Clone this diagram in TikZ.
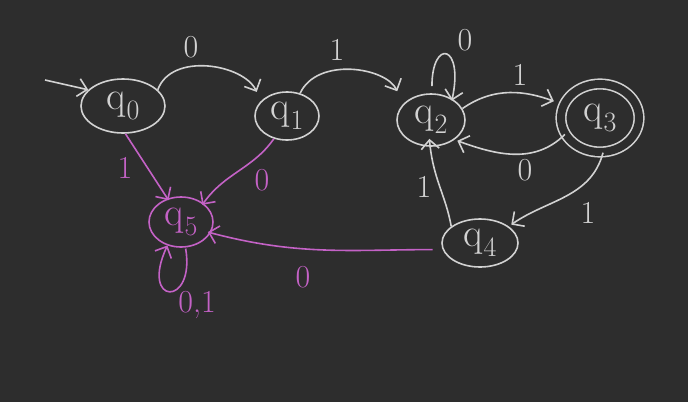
\documentclass[tikz,border=0pt]{standalone}
\usepackage{fontspec}
\usetikzlibrary{shapes.geometric,arrows.meta}
\definecolor{bg}{HTML}{2D2D2D}
\definecolor{chalk}{HTML}{D2D2D2}
\definecolor{mag}{HTML}{C462C6}
\newcommand{\qs}[1]{q\kern1pt\textsubscript{#1}}
\begin{document}
\begin{tikzpicture}[x=1pt,y=-1pt,
  st/.style={ellipse,draw=chalk,line width=1.6pt,inner sep=0pt,text=chalk,font=\fontsize{40}{42}\selectfont},
  edge/.style={draw=chalk,line width=1.6pt,-{Straight Barb[length=9pt,width=18pt,line width=1.6pt]}},
  medge/.style={edge,draw=mag},
  lbl/.style={text=chalk,font=\fontsize{32}{34}\selectfont,inner sep=0pt},
  mlbl/.style={lbl,text=mag}]
\fill[bg] (0,0) rectangle (688,402);
\useasboundingbox (0,0) rectangle (688,402);
% states
\node[st,minimum width=84pt,minimum height=54pt] (q0) at (123,106) {\qs{0}};
\node[st,minimum width=64pt,minimum height=48pt] (q1) at (287,116) {\qs{1}};
\node[st,minimum width=68pt,minimum height=52pt] (q2) at (431,120) {\qs{2}};
\node[st,minimum width=78pt,minimum height=68pt,double=bg,double distance=8pt] (q3) at (600,118) {\qs{3}};
\node[st,minimum width=76pt,minimum height=48pt] (q4) at (480,243) {\qs{4}};
\node[st,draw=mag,text=mag,minimum width=64pt,minimum height=50pt] (q5) at (181,222) {\qs{5}};
% start
\coordinate (s) at (45,80);
\draw[edge] (s) -- (q0.155);
% white edges
\draw[edge,shorten >=10pt] (q0.25) to[out=70,in=115] (q1.150);
\node[lbl] (l01) at (191,47) {0};
\draw[edge,shorten >=14pt] (q1.60) to[out=65,in=115] (q2.150);
\node[lbl] (l12) at (337,50) {1};
\draw[edge,shorten <=7pt,shorten >=-2pt] (q2.88) .. controls +(0,-55) and +(12,-55) .. (q2.45);
\node[lbl] (l22) at (465,40) {0};
\draw[edge,shorten >=10pt] (q2.20) to[out=35,in=160] (q3.160);
\node[lbl] (l23) at (520,75) {1};
\draw[edge,shorten >=3pt] (q3.205) to[out=225,in=-20] (q2.320);
\node[lbl] (l32) at (525,170) {0};
\draw[edge,shorten >=3pt] (q3.275) to[out=255,in=35] (q4.30);
\node[lbl] (l34) at (588,213) {1};
\draw[edge,shorten >=-8pt] (q4.150) to[out=100,in=-85] (q2.268);
\node[lbl] (l42) at (424,187) {1};
% magenta edges
\draw[medge,shorten >=-2pt] (q0.275) -- (q5.120);
\node[mlbl] (l05) at (125,168) {1};
\draw[medge,shorten >=-2pt] (q1.240) to[out=235,in=55] (q5.40);
\node[mlbl] (l15) at (262,180) {0};
\draw[medge,shorten <=10pt,shorten >=-3pt] (q4.190) to[out=180,in=-15] (q5.-20);
\node[mlbl] (l45) at (303,277) {0};
\draw[medge,shorten <=1pt] (q5.280) .. controls +(10,60) and +(-28,60) .. (q5.240);
\node[mlbl] (l55) at (197,305) {0,1};
\end{tikzpicture}
\end{document}
